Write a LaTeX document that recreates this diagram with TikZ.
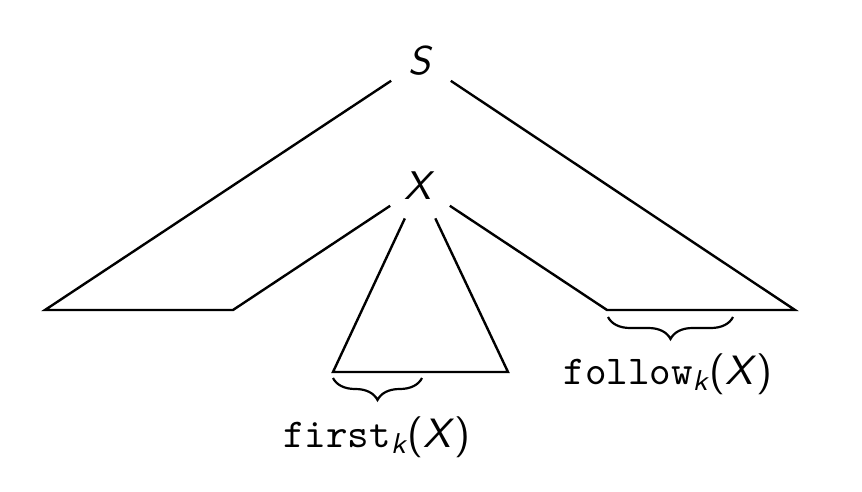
\documentclass[tikz,border=0pt]{standalone}
\usepackage{amsmath}
\usetikzlibrary{decorations.pathreplacing}
\newcommand{\sfit}[1]{\textsf{\itshape #1}}
\begin{document}
\begin{tikzpicture}[x=0.25pt,y=-0.25pt, scale=4, transform shape,
  treeline/.style={line width=2.4pt, line join=miter},
  sym/.style={circle, minimum size=17.5pt, inner sep=0pt, font=\normalsize},
  lbl/.style={inner sep=0pt, font=\fontsize{10.25}{12}\selectfont},
  brc/.style={line width=2.2pt, decorate, decoration={brace, mirror, amplitude=22pt}}]
\useasboundingbox (0,0) rectangle (862,492);
\node[sym] (S) at (421,61) {\sfit{S}};
\node[sym] (X) at (420,186) {\sfit{X}};
\coordinate (L1) at (45,310);
\coordinate (L2) at (233,310);
\coordinate (R1) at (795,310);
\coordinate (R2) at (607,310);
\coordinate (T1) at (333,372);
\coordinate (T2) at (508,372);
\draw[treeline] (S) -- (L1) -- (L2) -- (X);
\draw[treeline] (S) -- (R1) -- (R2) -- (X);
\draw[treeline] (X) -- (T1) -- (T2) -- (X);
\coordinate (B1a) at (333,378);
\coordinate (B1b) at (422,378);
\coordinate (B2a) at (608,317);
\coordinate (B2b) at (733,317);
\draw[brc] (B1a) -- (B1b);
\draw[brc] (B2a) -- (B2b);
\node[lbl] (F1) at (377,437) {$\texttt{first}_{\sfit{k}}$\textsf{(}\sfit{X}\textsf{)}};
\node[lbl] (F2) at (668,374) {$\texttt{follow}_{\sfit{k}}$\textsf{(}\sfit{X}\textsf{)}};
\end{tikzpicture}
\end{document}
